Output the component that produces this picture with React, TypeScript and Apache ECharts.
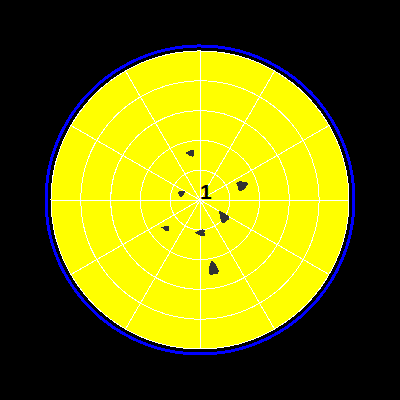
import React, { useEffect, useRef } from "react";
import * as echarts from "echarts";

// polar points: [radius, angle in degrees]
const radii = [1.61, 1.53, 0.64, 0.94, 1.5, 1.1, 2.3];
const angles = [102, 19, 159, 325, 219, 270, 281];
const widths = [7, 10, 6, 9, 6, 7, 10];
const heights = [9, 12, 8, 13, 8, 10, 15];
const rotations = [90, -70, -60, 35, 80, 90, 10];
const centerLabel = "1";

const blob =
  "path://M5,0 C8,5 10,9 10,12 C10,15 8,16 6,15 L5,14 L4,15 C2,16 0,15 0,12 C0,9 2,5 5,0 Z";

export default function App() {
  const ref = useRef<HTMLDivElement>(null);
  useEffect(() => {
    const chart = echarts.init(ref.current!, null, { renderer: "svg" });
    const data = radii.map((r, i) => ({
      value: [r, angles[i]],
      symbolSize: [widths[i], heights[i]],
      symbolRotate: rotations[i],
    }));
    const hiddenAxis = {
      axisLine: { show: false },
      axisTick: { show: false },
      axisLabel: { show: false },
      splitLine: { show: false },
    };
    chart.setOption({
      animation: false,
      backgroundColor: "#000",
      polar: [
        { center: ["50%", "50%"], radius: 149 },
        { center: ["50%", "50%"], radius: 154 },
        { center: ["50%", "50%"], radius: 149 },
      ],
      angleAxis: [
        {
          polarIndex: 0,
          type: "value",
          min: 0,
          max: 360,
          interval: 30,
          startAngle: 0,
          clockwise: false,
          z: 3,
          axisLine: { show: true, lineStyle: { color: "#fff", width: 1, type: "solid" } },
          axisTick: { show: false },
          axisLabel: { show: false },
          splitLine: { show: true, lineStyle: { color: "#fff", width: 1, type: "solid" } },
        },
        {
          polarIndex: 1,
          type: "value",
          min: 0,
          max: 360,
          ...hiddenAxis,
          axisLine: { show: true, lineStyle: { color: "#0000ff", width: 3, type: "solid" } },
        },
        {
          polarIndex: 2,
          type: "value",
          min: 0,
          max: 360,
          z: 0,
          ...hiddenAxis,
        },
      ],
      radiusAxis: [
        {
          polarIndex: 0,
          type: "value",
          min: 0,
          max: 5,
          interval: 1,
          z: 3,
          axisLine: { show: false },
          axisTick: { show: false },
          axisLabel: { show: false },
          splitLine: { show: true, lineStyle: { color: "#fff", width: 1, type: "solid" } },
        },
        {
          polarIndex: 1,
          type: "value",
          min: 0,
          max: 5,
          ...hiddenAxis,
        },
        {
          polarIndex: 2,
          type: "value",
          min: 0,
          max: 5,
          z: 0,
          ...hiddenAxis,
          splitArea: { show: true, areaStyle: { color: ["#ffff00", "#ffff00"], opacity: 1 } },
        },
      ],
      series: [
        {
          type: "scatter",
          coordinateSystem: "polar",
          polarIndex: 0,
          symbol: blob,
          symbolKeepAspect: false,
          itemStyle: { color: "#333", opacity: 1 },
          data,
          z: 5,
        },
      ],
      graphic: [
        {
          type: "text",
          x: 200,
          y: 181,
          z: 100,
          style: {
            text: centerLabel,
            fill: "#000",
            fontSize: 21,
            fontWeight: "bold",
            fontFamily: "Liberation Sans",
          },
        },
      ],
    });
    return () => chart.dispose();
  }, []);
  return (
    <>
      <style>{"#root svg path { shape-rendering: crispEdges; }"}</style>
      <div
        ref={ref}
        style={{ position: "absolute", left: 0, top: 0, width: 400, height: 400 }}
      />
    </>
  );
}
